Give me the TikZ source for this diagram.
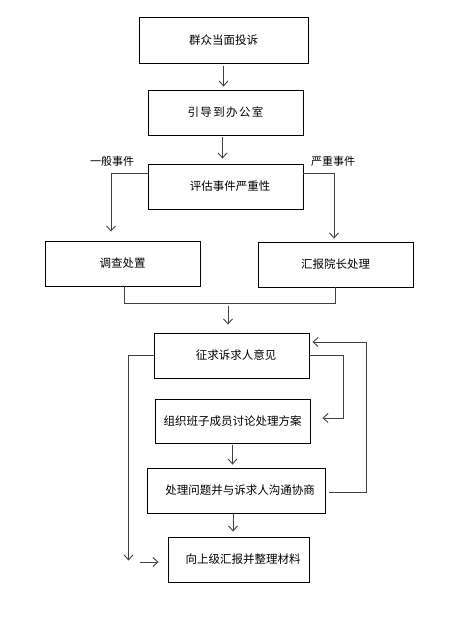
\documentclass[tikz,border=0pt]{standalone}
\usepackage{fontspec}
\setmainfont{Noto Sans CJK SC}
\usetikzlibrary{arrows.meta}
\tikzset{
  box/.style={draw=black, line width=0.9pt, minimum width=#1, inner sep=0pt, font=\fontsize{11.5}{13}\selectfont},
  box/.default=155pt,
  conn/.style={draw=black!75, line width=0.9pt},
  arr/.style={conn, -{Straight Barb[length=5pt,width=9pt]}},
  lbl/.style={font=\fontsize{11}{13}\selectfont, inner sep=0pt}
}
\begin{document}
\begin{tikzpicture}[x=1pt,y=-1pt]
\useasboundingbox (0,0) rectangle (453,620);
\node[box=169pt, minimum height=46pt] (b1) at (223.5,40) {群众当面投诉};
\node[box, minimum height=45pt] (b2) at (225.5,112.5) {{\addfontfeatures{LetterSpace=12}引导到办公室}};
\node[box, minimum height=45pt] (b3) at (225.5,186.5) {\hspace{9pt}评估事件严重性};
\node[box, minimum height=45pt] (b4) at (122.5,263.5) {调查处置\hspace{24pt}};
\node[box, minimum height=45pt] (b5) at (335.5,264.5) {汇报院长处理};
\node[box, minimum height=45pt] (b6) at (231.5,355.5) {\hspace{9pt}征求诉求人意见};
\node[box, minimum height=44pt] (b7) at (232.5,421) {组织班子成员讨论处理方案};
\node[box=178pt, minimum height=45pt] (b8) at (236,490.5) {\hspace{8pt}处理问题并与诉求人沟通协商};
\node[box=141pt, minimum height=45pt] (b9) at (238.5,559.5) {\hspace{9pt}向上级汇报并整理材料};
\node[lbl] (l1) at (112,161) {一般事件};
\node[lbl] (l2) at (333,161) {严重事件};
\coordinate (j) at (228,303);
\coordinate (s) at (140,562);
% main flow
\draw[arr, shorten <=3pt, shorten >=3pt] (b1.south) -- (b1.south |- b2.north);
\draw[arr, shorten <=2pt, shorten >=5pt] ([xshift=-3pt]b2.south) -- ([xshift=-3pt]b2.south |- b3.north);
% branches
\draw[arr, shorten >=9pt] ([yshift=-10pt]b3.north west) -| ([xshift=-11.5pt]b4.north);
\draw[arr, shorten >=3pt] ([yshift=-10pt]b3.north east) -| ([xshift=-1.5pt]b5.north);
% join
\draw[conn] ([xshift=1.5pt]b4.south) -- ++(0,17) -| (b5.south);
\draw[arr, shorten <=3pt, shorten >=8pt] (j) -- (j |- b6.north);
% inner loop
\draw[arr, shorten >=12pt] (b6.east) -- ++(34,0) |- ([yshift=3pt]b7.east);
\draw[arr, shorten <=2pt, shorten >=3pt] (b7.south) -- (b7.south |- b8.north);
% outer loop
\draw[arr, shorten <=4pt, shorten >=3pt] ([yshift=-1.5pt]b8.east) -- ++(41,0) |- ([yshift=13.5pt]b6.east);
\draw[arr, shorten <=0pt, shorten >=5pt] ([xshift=-3pt]b8.south) -- ([xshift=-3pt]b8.south |- b9.north);
% left bypass
\draw[arr] (b6.west) -- ++(-25,0) -- ++(0,205);
\draw[arr, shorten >=9pt] (s) -- (s -| b9.west);
\end{tikzpicture}
\end{document}
